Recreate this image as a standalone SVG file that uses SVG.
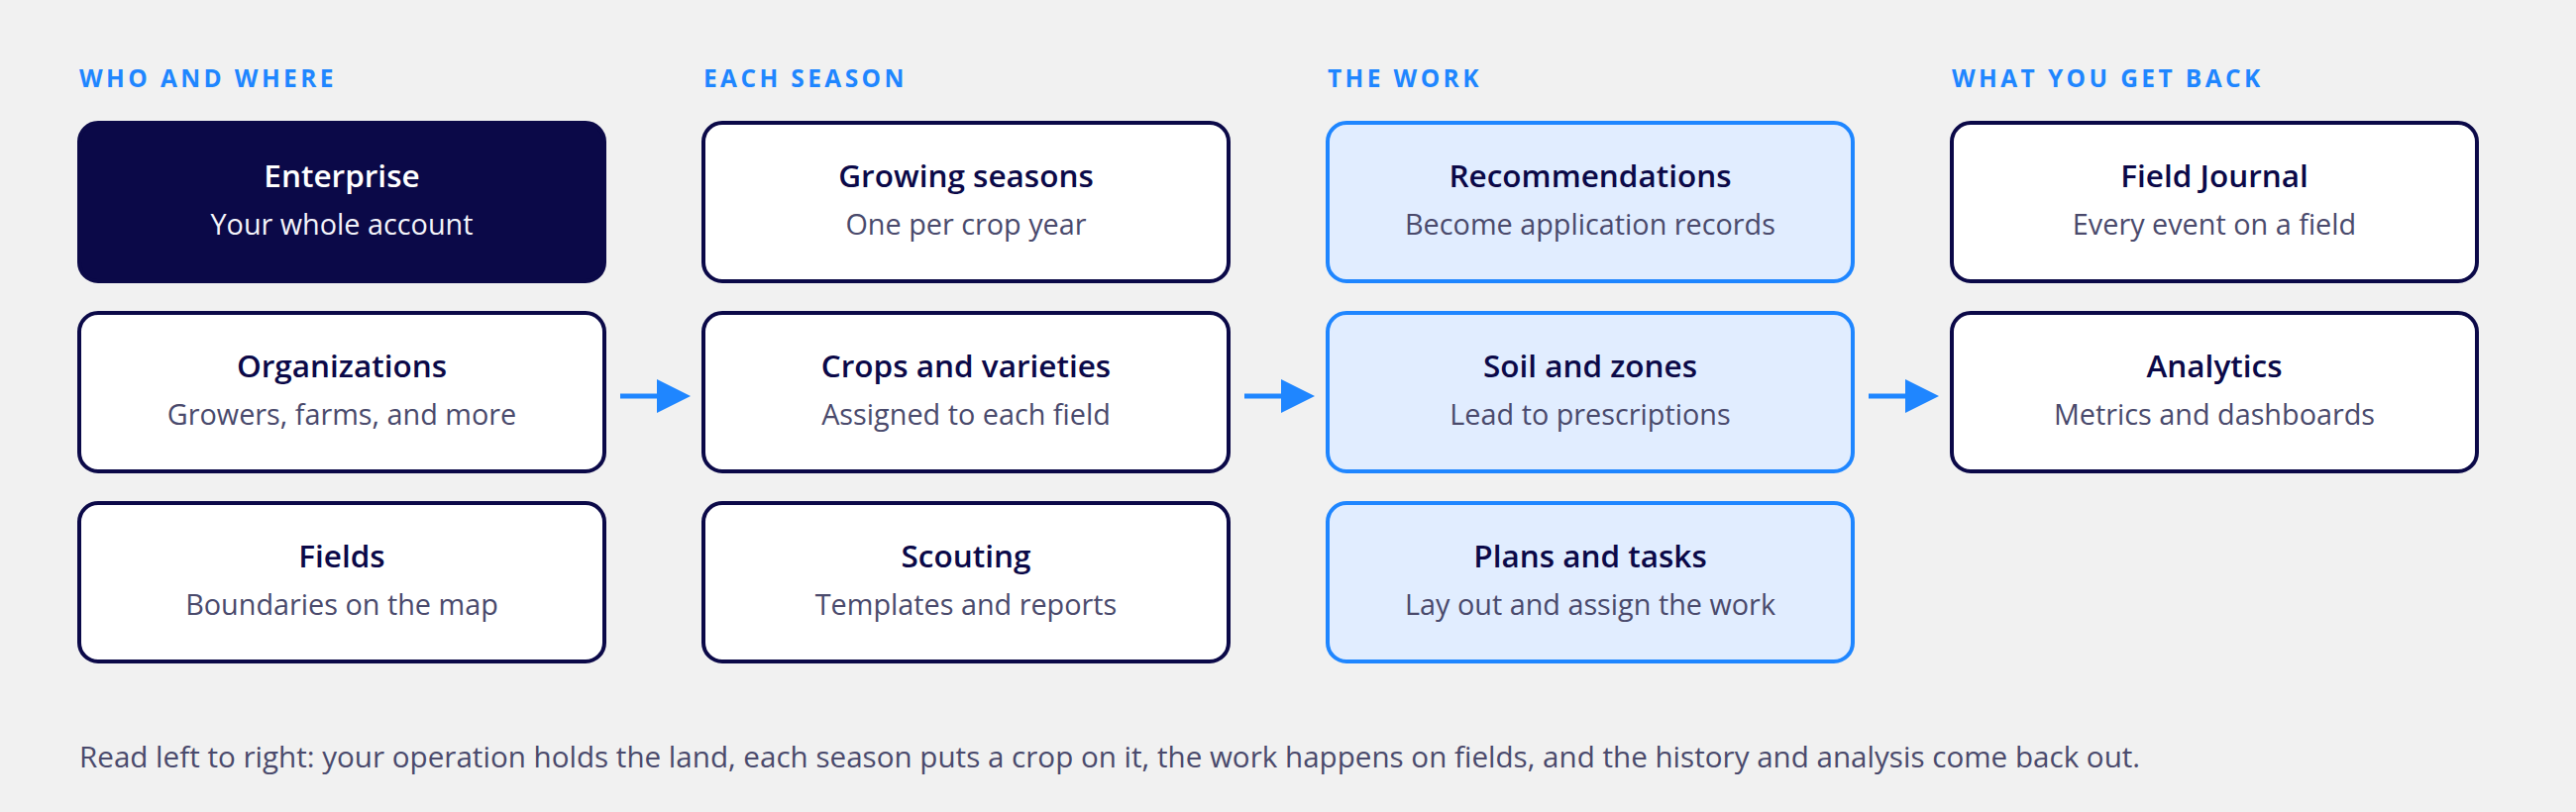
<svg xmlns="http://www.w3.org/2000/svg" width="2600" height="820" viewBox="0 0 2600 820">
<defs>
<style>
.bg{fill:#f1f1f1}
.hdr{font-family:"Open Sans","Noto Sans",sans-serif;font-weight:700;font-size:24.5px;letter-spacing:3.4px;fill:#1f86ff}
.box{fill:#ffffff;stroke:#0b0948;stroke-width:4}
.dark{fill:#0b0948;stroke:#0b0948;stroke-width:4}
.work{fill:#e1edff;stroke:#1f86ff;stroke-width:4}
.t{font-family:"Open Sans","Noto Sans",sans-serif;font-weight:600;font-size:31.5px;fill:#0b0948;text-anchor:middle}
.s{font-family:"Open Sans","Noto Sans",sans-serif;font-weight:400;font-size:28.8px;fill:#4a4a6c;text-anchor:middle}
.tw{fill:#ffffff}
.sw{fill:#f4f4fb}
.arr{stroke:#1f86ff;stroke-width:5;fill:none}
.head{fill:#1f86ff}
.note{font-family:"Open Sans","Noto Sans",sans-serif;font-weight:400;font-size:29.6px;fill:#4a4a6c}
</style>
</defs>
<rect class="bg" x="0" y="0" width="2600" height="820"/>
<g id="headers">
<text class="hdr" x="80" y="88">WHO AND WHERE</text>
<text class="hdr" x="710" y="88">EACH SEASON</text>
<text class="hdr" x="1340" y="88">THE WORK</text>
<text class="hdr" x="1970" y="88">WHAT YOU GET BACK</text>
</g>
<g id="enterprise"><rect class="dark" x="80" y="124" width="530" height="160" rx="19"/><text class="t tw" x="345" y="189">Enterprise</text><text class="s sw" x="345" y="237">Your whole account</text></g>
<g id="organizations"><rect class="box" x="80" y="316" width="530" height="160" rx="19"/><text class="t" x="345" y="381">Organizations</text><text class="s" x="345" y="429">Growers, farms, and more</text></g>
<g id="fields"><rect class="box" x="80" y="508" width="530" height="160" rx="19"/><text class="t" x="345" y="573">Fields</text><text class="s" x="345" y="621">Boundaries on the map</text></g>
<g id="growing-seasons"><rect class="box" x="710" y="124" width="530" height="160" rx="19"/><text class="t" x="975" y="189">Growing seasons</text><text class="s" x="975" y="237">One per crop year</text></g>
<g id="crops"><rect class="box" x="710" y="316" width="530" height="160" rx="19"/><text class="t" x="975" y="381">Crops and varieties</text><text class="s" x="975" y="429">Assigned to each field</text></g>
<g id="scouting"><rect class="box" x="710" y="508" width="530" height="160" rx="19"/><text class="t" x="975" y="573">Scouting</text><text class="s" x="975" y="621">Templates and reports</text></g>
<g id="recommendations"><rect class="work" x="1340" y="124" width="530" height="160" rx="19"/><text class="t" x="1605" y="189">Recommendations</text><text class="s" x="1605" y="237">Become application records</text></g>
<g id="soil-zones"><rect class="work" x="1340" y="316" width="530" height="160" rx="19"/><text class="t" x="1605" y="381">Soil and zones</text><text class="s" x="1605" y="429">Lead to prescriptions</text></g>
<g id="plans-tasks"><rect class="work" x="1340" y="508" width="530" height="160" rx="19"/><text class="t" x="1605" y="573">Plans and tasks</text><text class="s" x="1605" y="621">Lay out and assign the work</text></g>
<g id="field-journal"><rect class="box" x="1970" y="124" width="530" height="160" rx="19"/><text class="t" x="2235" y="189">Field Journal</text><text class="s" x="2235" y="237">Every event on a field</text></g>
<g id="analytics"><rect class="box" x="1970" y="316" width="530" height="160" rx="19"/><text class="t" x="2235" y="381">Analytics</text><text class="s" x="2235" y="429">Metrics and dashboards</text></g>
<g id="connectors">
<line class="arr" x1="626" y1="400" x2="666" y2="400"/><polygon class="head" points="663,383 697,400 663,417"/>
<line class="arr" x1="1256" y1="400" x2="1296" y2="400"/><polygon class="head" points="1293,383 1327,400 1293,417"/>
<line class="arr" x1="1886" y1="400" x2="1926" y2="400"/><polygon class="head" points="1923,383 1957,400 1923,417"/>
</g>
<text class="note" x="80" y="775">Read left to right: your operation holds the land, each season puts a crop on it, the work happens on fields, and the history and analysis come back out.</text>
</svg>
